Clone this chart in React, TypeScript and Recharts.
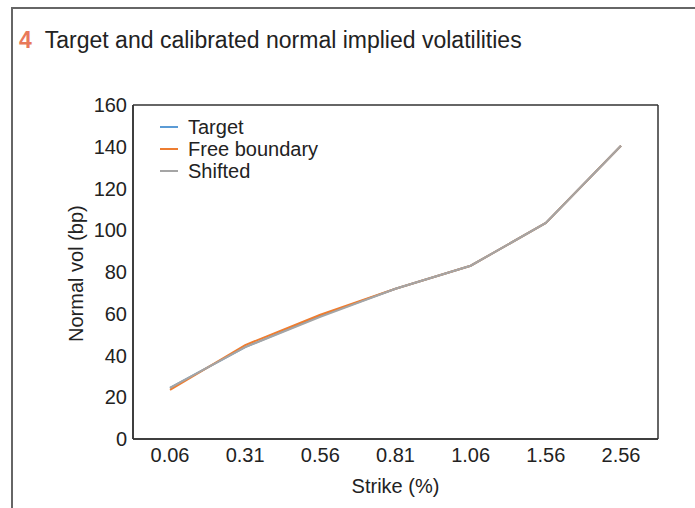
import { LineChart, Line, XAxis, YAxis, CartesianGrid } from 'recharts';

const strikes = ['0.06', '0.31', '0.56', '0.81', '1.06', '1.56', '2.56'];
const targetVol = [24.5, 44, 59, 72, 83, 103.5, 140.5];
const freeBoundaryVol = [23.5, 45, 59.5, 72, 83, 103.5, 140.5];
const shiftedVol = [24.5, 44, 58.5, 72, 83, 103.5, 140.5];
const yTicks = [0, 20, 40, 60, 80, 100, 120, 140, 160];

const series = [
  { key: 'target', name: 'Target', color: '#5b9bd5' },
  { key: 'free', name: 'Free boundary', color: '#ed7d31' },
  { key: 'shifted', name: 'Shifted', color: '#a5a5a5' },
];

const data = strikes.map((strike, i) => ({
  strike,
  target: targetVol[i],
  free: freeBoundaryVol[i],
  shifted: shiftedVol[i],
}));

const font = '"Liberation Sans", Arial, sans-serif';
const axisColor = '#333';
const textColor = '#222';

const LegendBox = () => (
  <div
    style={{
      position: 'absolute',
      left: 160,
      top: 116,
      fontFamily: font,
      fontSize: 20,
      color: textColor,
      lineHeight: '22px',
    }}
  >
    {series.map((s) => (
      <div key={s.key} style={{ display: 'flex', alignItems: 'center' }}>
        <span style={{ width: 18, height: 2, background: s.color, marginRight: 10 }} />
        <span>{s.name}</span>
      </div>
    ))}
  </div>
);

// box around the plot area: top + bottom, left + right
const boxRows = ({ offset }: any) => [offset.top, offset.top + offset.height];
const boxCols = ({ offset }: any) => [offset.left, offset.left + offset.width];

export default function App() {
  return (
    <div
      style={{
        position: 'absolute',
        left: 0,
        top: 0,
        width: 695,
        height: 508,
        background: '#fff',
        fontFamily: font,
        overflow: 'hidden',
      }}
    >
      {/* panel frame, open on right and bottom */}
      <div
        style={{
          position: 'absolute',
          left: 11,
          top: 7,
          width: 700,
          height: 520,
          borderLeft: '2px solid #666',
          borderTop: '2px solid #666',
        }}
      />
      <div
        style={{
          position: 'absolute',
          left: 19,
          top: 27,
          fontSize: 23,
          color: textColor,
          whiteSpace: 'nowrap',
        }}
      >
        <span style={{ color: '#e8795a', fontWeight: 'bold', marginRight: 13 }}>4</span>
        Target and calibrated normal implied volatilities
      </div>

      <div style={{ position: 'absolute', left: 0, top: 0 }}>
        <LineChart
          width={695}
          height={508}
          data={data}
          margin={{ top: 105, right: 37, bottom: 39, left: 73 }}
        >
          <CartesianGrid
            stroke={axisColor}
            strokeWidth={1.5}
            horizontalCoordinatesGenerator={boxRows}
            verticalCoordinatesGenerator={boxCols}
          />
          <XAxis
            dataKey="strike"
            padding={{ left: 37, right: 37 }}
            interval={0}
            tickLine={false}
            tickMargin={3}
            axisLine={{ stroke: axisColor, strokeWidth: 1.5 }}
            tick={{ fill: textColor, fontSize: 20, fontFamily: font }}
            height={30}
            label={{
              value: 'Strike (%)',
              position: 'insideBottom',
              offset: -24,
              style: { fill: textColor, fontSize: 20, fontFamily: font },
            }}
          />
          <YAxis
            domain={[0, 160]}
            ticks={yTicks}
            width={60}
            tickLine={false}
            tickMargin={0}
            axisLine={{ stroke: axisColor, strokeWidth: 1.5 }}
            tick={{ fill: textColor, fontSize: 20, fontFamily: font }}
            label={{
              value: 'Normal vol (bp)',
              angle: -90,
              position: 'insideLeft',
              dx: -2,
              dy: 70,
              style: { fill: textColor, fontSize: 20, fontFamily: font },
            }}
          />
          {series.map((s) => (
            <Line
              key={s.key}
              type="linear"
              dataKey={s.key}
              name={s.name}
              stroke={s.color}
              strokeWidth={2}
              dot={false}
              isAnimationActive={false}
            />
          ))}
        </LineChart>
      </div>
      <LegendBox />
    </div>
  );
}
